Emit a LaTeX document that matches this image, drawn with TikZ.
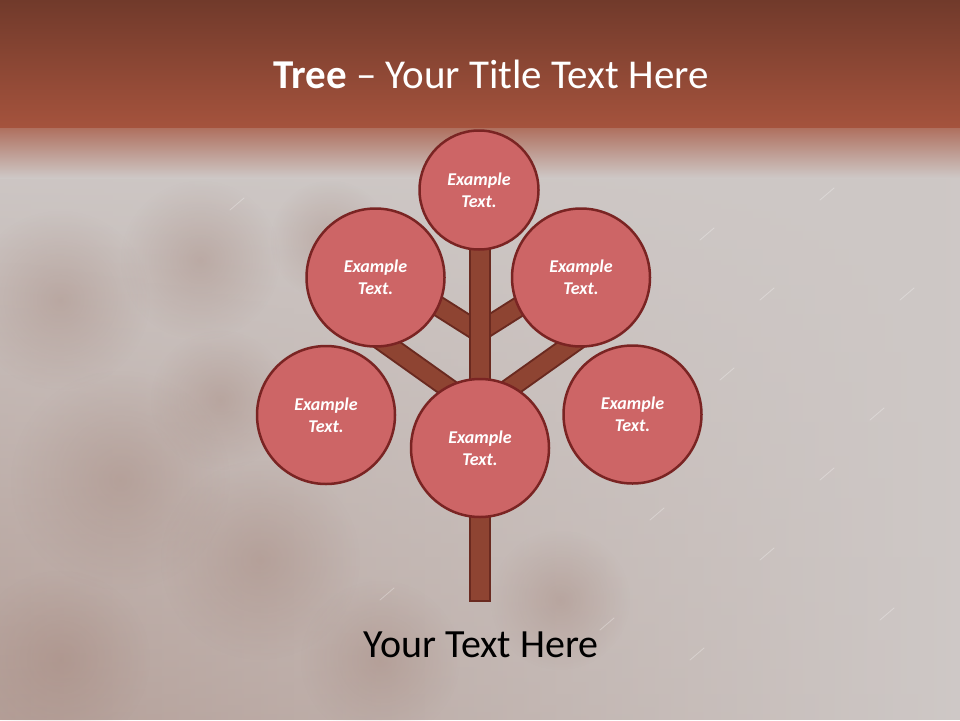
\documentclass[tikz,border=0pt]{standalone}
\usepackage{fontspec}
\setmainfont{Carlito}
\usetikzlibrary{backgrounds,fadings}

\definecolor{bandtop}{HTML}{713A2B}
\definecolor{bandlow}{HTML}{A5533D}
\definecolor{paper}{HTML}{CEC8C6}
\definecolor{rust}{HTML}{A07F74}
\definecolor{leaffill}{HTML}{CD6566}
\definecolor{leafline}{HTML}{7A2423}
\definecolor{wood}{HTML}{8E4432}
\definecolor{woodline}{HTML}{6A2A20}

\tikzfading[name=sinkdown,top color=transparent!100,bottom color=transparent!0]
\tikzfading[name=softspot,inner color=transparent!0,outer color=transparent!100]

\tikzset{
  leaf/.style={circle,draw=leafline,fill=leaffill,line width=2.5pt,
    minimum size=138pt,inner sep=0pt,text=white,align=center,
    font=\bfseries\itshape\fontsize{18}{22}\selectfont},
  branch/.style={draw=woodline,double=wood,line width=2pt,double distance=17pt},
  trunk/.style={draw=woodline,fill=wood,line width=2pt},
  blot/.style={fill=rust,path fading=softspot,fill opacity=0.35},
  scratch/.style={white,opacity=0.3,line width=0.8pt,line cap=round},
}

\begin{document}
\begin{tikzpicture}[x=1pt,y=-1pt]
\useasboundingbox (0,0) rectangle (960,720);
% leaves
\node[leaf,minimum size=119pt] (crown) at (479,190) {Example\\Text.};
\node[leaf] (upleft) at (375.5,277.5) {Example\\Text.};
\node[leaf] (upright) at (581,277.5) {Example\\Text.};
\node[leaf] (left) at (326,415) {Example\\Text.};
\node[leaf] (right) at (632.5,414.5) {Example\\Text.};
\node[leaf] (middle) at (480,448) {Example\\Text.};

% titles
\node[anchor=base,text=white,font=\fontsize{41}{48}\selectfont] (title) at (491,88)
  {\textbf{Tree} – Your Title Text Here};
\node[anchor=base,font=\fontsize{40}{48}\selectfont] (caption) at (481,657) {Your Text Here};

\begin{pgfonlayer}{background}
\begin{scope}
\clip (0,0) rectangle (960,720);
% slide background
\fill[paper] (0,0) rectangle (960,720);
\shade[left color=rust!80!paper,right color=paper,fill opacity=0.7,path fading=sinkdown]
  (0,150) rectangle (960,720);
\foreach \x/\y/\r in {60/300/90, 200/260/80, 120/480/110, 260/560/100, 60/660/90,
  380/660/80, 220/400/70, 560/600/70, 330/240/60}
  \fill[blot] (\x,\y) circle (\r);
\foreach \x/\y in {700/240, 760/300, 820/200, 870/420, 650/520, 760/560, 880/620, 560/250,
  720/380, 900/300, 600/630, 820/480, 230/210, 380/600, 690/660}
  \draw[scratch] (\x,\y) -- ++(14,-12);
\shade[top color=bandtop,bottom color=bandlow] (0,0) rectangle (960,128);
\shade[top color=bandlow!75!paper,bottom color=paper] (0,128) rectangle (960,178);
\end{scope}

% branches and trunk
\coordinate (fork) at (479,332);
\coordinate (knot) at (479,410);
\coordinate (twigUL) at (400,282);
\coordinate (twigUR) at (558,282);
\coordinate (twigL) at (375,336);
\coordinate (twigR) at (583,336);
\draw[branch] (fork) -- (twigUL);
\draw[branch] (fork) -- (twigUR);
\draw[branch] (knot) -- (twigL);
\draw[branch] (knot) -- (twigR);
\draw[trunk] (469.5,245) rectangle (489.5,600.5);
\end{pgfonlayer}
\end{tikzpicture}
\end{document}
